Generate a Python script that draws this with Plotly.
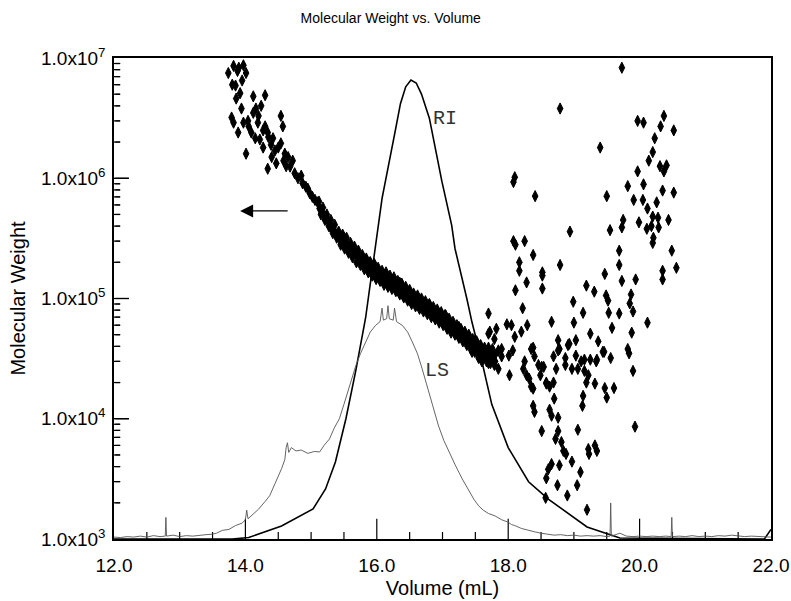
import math
import plotly.graph_objects as go

# ---------------- data ----------------
# molecular weight points (volume mL, molecular weight)
top_vol = [13.82, 13.97, 14.01, 13.74, 13.85, 13.92, 14.12, 14.30, 13.86, 14.16, 14.24, 13.94, 14.12,
           13.79, 13.82, 13.89, 13.97, 14.04, 14.54, 14.57, 14.09, 14.19, 14.30, 14.01, 14.22, 14.15,
           14.34, 14.39, 14.42, 14.27, 14.50, 14.54, 14.60, 14.65, 14.34, 14.47, 14.72, 14.62, 14.75,
           14.87, 14.98, 15.06, 14.20, 14.35, 14.45, 14.58, 14.68, 14.80, 14.92, 15.02, 14.05, 14.27,
           14.40, 14.85, 14.95, 13.88, 13.90, 13.95, 13.80]
top_mw = [8.6e6, 8.7e6, 7.5e6, 7.5e6, 5.9e6, 5.1e6, 4.8e6, 4.9e6, 4.6e6, 3.8e6, 4.0e6, 3.8e6, 3.5e6,
          3.2e6, 2.9e6, 2.4e6, 2.9e6, 3.0e6, 3.3e6, 2.7e6, 2.4e6, 2.9e6, 2.7e6, 1.6e6, 2.1e6, 2.15e6,
          2.4e6, 1.9e6, 2.15e6, 1.8e6, 1.8e6, 1.95e6, 1.6e6, 1.5e6, 1.2e6, 1.33e6, 1.4e6, 1.26e6, 1.1e6,
          9.1e5, 7.5e5, 6.6e5, 3.3e6, 2.2e6, 1.7e6, 1.4e6, 1.25e6, 1.0e6, 8.5e5, 7.0e5, 2.7e6, 2.5e6,
          1.5e6, 1.05e6, 8.2e5, 7.8e6, 8.3e6, 6.5e6, 6.0e6]

band_vol = [15.10, 15.13, 15.16, 15.19, 15.22, 15.25, 15.28, 15.31, 15.34, 15.37, 15.40, 15.43, 15.46,
            15.49, 15.52, 15.55, 15.58, 15.61, 15.64, 15.67, 15.70, 15.73, 15.76, 15.79, 15.82, 15.85,
            15.88, 15.91, 15.94, 15.97, 16.00, 16.03, 16.06, 16.09, 16.12, 16.15, 16.18, 16.21, 16.24,
            16.27, 16.30, 16.33, 16.36, 16.39, 16.42, 16.45, 16.48, 16.51, 16.54, 16.57, 16.60, 16.63,
            16.66, 16.69, 16.72, 16.75, 16.78, 16.81, 16.84, 16.87, 16.90, 16.93, 16.96, 16.99, 17.02,
            17.05, 17.08, 17.11, 17.14, 17.17, 17.20, 17.23, 17.26, 17.29, 17.32, 17.35, 17.38, 17.41,
            17.44, 17.47, 17.50, 17.53, 17.56, 17.59, 17.62, 17.65, 17.68, 17.71, 17.74, 17.77, 17.80,
            15.50, 15.90, 16.35, 16.80, 17.05, 17.25, 17.50, 17.45, 17.60, 17.70, 17.55, 17.80, 17.85,
            17.90]
band_mw = [6.3e5, 5.6e5, 5.4e5, 5.0e5, 4.6e5, 4.5e5, 4.0e5, 3.9e5, 3.6e5, 3.5e5, 3.3e5, 3.2e5, 3.0e5,
           3.0e5, 2.8e5, 2.8e5, 2.6e5, 2.6e5, 2.45e5, 2.4e5, 2.3e5, 2.2e5, 2.15e5, 2.05e5, 2.0e5, 1.9e5,
           1.85e5, 1.8e5, 1.75e5, 1.7e5, 1.65e5, 1.6e5, 1.55e5, 1.5e5, 1.5e5, 1.45e5, 1.4e5, 1.4e5, 1.35e5,
           1.3e5, 1.3e5, 1.22e5, 1.2e5, 1.15e5, 1.12e5, 1.1e5, 1.05e5, 1.03e5, 1.0e5, 9.8e4, 9.6e4, 9.3e4,
           9.0e4, 8.9e4, 8.6e4, 8.5e4, 8.2e4, 8.0e4, 7.9e4, 7.6e4, 7.5e4, 7.2e4, 7.0e4, 6.9e4, 6.6e4,
           6.5e4, 6.2e4, 6.0e4, 5.8e4, 5.6e4, 5.5e4, 5.2e4, 5.1e4, 4.9e4, 4.8e4, 4.6e4, 4.5e4, 4.4e4,
           4.2e4, 4.1e4, 4.0e4, 3.8e4, 3.7e4, 3.6e4, 3.5e4, 3.4e4, 3.6e4, 3.3e4, 3.5e4, 3.2e4, 3.4e4,
           3.2e5, 2.0e5, 1.35e5, 9.0e4, 7.2e4, 5.8e4, 4.5e4, 3.6e4, 3.0e4, 2.9e4, 3.2e4, 3.0e4, 3.7e4,
           3.3e4]

# upper and lower edges of the dense band
edge_vol = [15.12, 15.18, 15.24, 15.30, 15.36, 15.42, 15.48, 15.54, 15.60, 15.66, 15.72, 15.78, 15.84,
            15.90, 15.96, 16.02, 16.08, 16.14, 16.20, 16.26, 16.32, 16.38, 16.44, 16.50, 16.56, 16.62,
            16.68, 16.74, 16.80, 16.86, 16.92, 16.98, 17.04, 17.10, 17.16, 17.22, 17.28, 17.34, 17.40,
            17.46, 17.52, 17.58, 17.64, 17.70, 17.76,
            15.15, 15.21, 15.27, 15.33, 15.39, 15.45, 15.51, 15.57, 15.63, 15.69, 15.75, 15.81, 15.87,
            15.93, 15.99, 16.05, 16.11, 16.17, 16.23, 16.29, 16.35, 16.41, 16.47, 16.53, 16.59, 16.65,
            16.71, 16.77, 16.83, 16.89, 16.95, 17.01, 17.07, 17.13, 17.19, 17.25, 17.31, 17.37, 17.43,
            17.49, 17.55, 17.61, 17.67, 17.73, 17.79]
edge_mw = [6.4e5, 5.7e5, 5.0e5, 4.5e5, 4.1e5, 3.6e5, 3.4e5, 3.2e5, 2.9e5, 2.7e5, 2.5e5, 2.3e5, 2.15e5,
           2.0e5, 1.95e5, 1.8e5, 1.7e5, 1.65e5, 1.55e5, 1.5e5, 1.4e5, 1.33e5, 1.25e5, 1.18e5, 1.1e5, 1.06e5,
           1.0e5, 9.5e4, 8.9e4, 8.5e4, 8.1e4, 7.7e4, 7.3e4, 6.8e4, 6.4e4, 6.0e4, 5.6e4, 5.3e4, 5.0e4,
           4.6e4, 4.4e4, 4.1e4, 3.9e4, 3.9e4, 3.8e4,
           5.0e5, 4.5e5, 4.0e5, 3.5e5, 3.2e5, 2.8e5, 2.6e5, 2.4e5, 2.2e5, 2.0e5, 1.9e5, 1.75e5, 1.65e5,
           1.55e5, 1.45e5, 1.4e5, 1.3e5, 1.25e5, 1.2e5, 1.15e5, 1.08e5, 1.02e5, 9.6e4, 9.0e4, 8.6e4, 8.2e4,
           7.8e4, 7.4e4, 7.0e4, 6.7e4, 6.3e4, 6.0e4, 5.6e4, 5.2e4, 5.0e4, 4.7e4, 4.4e4, 4.1e4, 3.8e4,
           3.6e4, 3.3e4, 3.1e4, 3.0e4, 2.9e4, 3.0e4]

tail_vol = [19.73, 18.79, 19.97, 20.06, 20.37, 20.32, 20.52, 20.23, 19.40, 20.20, 20.14, 19.97, 20.31,
            20.41, 20.37, 18.10, 18.08, 19.82, 20.06, 20.35, 20.52, 18.41, 19.50, 19.91, 20.05, 20.26,
            20.12, 20.20, 20.28, 19.75, 19.73, 19.99, 20.44, 20.11, 20.18, 20.29, 19.55, 18.94, 18.08,
            18.25, 18.11, 20.21, 20.20, 19.69, 20.49, 18.38, 18.79, 19.69, 18.17, 18.17, 18.52, 18.52,
            20.35, 20.35, 20.56, 19.47, 18.28, 18.52, 18.11, 19.19, 19.31, 19.73, 19.94, 19.49, 19.52,
            19.87, 19.85, 18.99, 18.22, 19.90, 17.70, 19.53, 19.69, 19.14, 18.66, 19.00, 19.58, 20.12,
            18.29, 19.88, 19.25, 18.76, 19.03, 18.93, 19.37, 19.46, 19.82, 19.84, 19.56, 18.69, 18.76,
            18.87, 19.03, 19.16, 19.25, 19.35, 18.38, 18.40, 17.72, 17.98, 18.05, 18.20, 18.07, 18.87,
            18.97, 19.16, 19.22, 19.19, 19.32, 19.47, 19.61, 19.50, 18.69, 18.49, 18.58, 18.38, 18.70,
            19.14, 19.13, 18.38, 18.40, 18.63, 18.66, 18.76, 19.90, 18.51, 18.76, 19.06, 19.93, 18.72,
            18.81, 18.84, 18.88, 19.22, 19.23, 19.32, 19.35, 18.66, 18.61, 18.58, 18.78, 18.97, 19.10,
            18.75, 18.90, 19.05, 18.57, 19.20, 17.70, 17.79, 17.90, 18.01, 17.79, 17.85, 18.02, 18.35,
            18.54, 18.58, 18.63, 18.23, 18.28, 18.32, 18.35, 18.46, 18.51, 18.73, 19.06, 17.82, 18.10,
            18.25, 18.91, 18.78, 19.44, 19.34, 19.11]
tail_mw = [8.3e6, 3.8e6, 3.0e6, 2.9e6, 3.3e6, 2.7e6, 2.5e6, 2.15e6, 1.8e6, 1.65e6, 1.4e6, 1.14e6, 1.26e6,
           1.28e6, 1.14e6, 1.02e6, 9.3e5, 8.6e5, 8.9e5, 7.9e5, 7.6e5, 7.1e5, 7.1e5, 6.6e5, 6.6e5, 6.3e5,
           5.6e5, 4.8e5, 4.7e5, 4.5e5, 3.9e5, 4.3e5, 4.5e5, 3.8e5, 4.0e5, 3.9e5, 3.7e5, 3.6e5, 3.0e5,
           3.0e5, 2.8e5, 3.2e5, 2.9e5, 2.5e5, 2.5e5, 2.3e5, 1.9e5, 1.9e5, 2.0e5, 1.7e5, 1.65e5, 1.55e5,
           1.7e5, 1.44e5, 1.8e5, 1.6e5, 1.36e5, 1.21e5, 1.17e5, 1.28e5, 1.14e5, 1.4e5, 1.44e5, 1.06e5, 9.6e4,
           1.08e5, 9.1e4, 9.4e4, 8.3e4, 7.8e4, 7.5e4, 7.6e4, 7.5e4, 7.6e4, 6.4e4, 6.3e4, 5.7e4, 6.3e4,
           6.0e4, 5.2e4, 5.1e4, 4.5e4, 4.5e4, 4.2e4, 4.4e4, 3.6e4, 3.8e4, 3.5e4, 3.2e4, 3.3e4, 3.7e4,
           3.2e4, 3.35e4, 3.1e4, 3.1e4, 3.1e4, 3.9e4, 3.3e4, 5.3e4, 6.1e4, 6.0e4, 5.3e4, 3.7e4, 2.8e4,
           2.6e4, 2.5e4, 2.3e4, 2.0e4, 1.96e4, 1.8e4, 1.8e4, 1.5e4, 2.0e4, 2.3e4, 1.96e4, 1.78e4, 1.47e4,
           1.55e4, 1.28e4, 1.28e4, 1.14e4, 1.19e4, 1.06e4, 1.02e4, 2.5e4, 7.9e3, 7.9e3, 8.1e3, 8.6e3, 6.8e3,
           6.4e3, 5.4e3, 5.1e3, 5.6e3, 5.1e3, 6.0e3, 5.4e3, 4.2e3, 3.8e3, 3.2e3, 4.1e3, 4.4e3, 3.6e3,
           2.8e3, 2.3e3, 2.8e3, 2.2e3, 1.75e3, 5.1e4, 4.6e4, 3.8e4, 3.35e4, 2.8e4, 2.6e4, 2.3e4, 3.8e4,
           2.7e4, 2.0e4, 1.85e4, 2.6e4, 2.3e4, 2.15e4, 1.85e4, 2.8e4, 2.7e4, 2.6e4, 2.6e4, 5.6e4, 4.8e4,
           3.0e4, 4.1e4, 3.8e4, 3.6e4, 3.0e4, 3.0e4]

# RI detector trace (volume mL, relative signal)
ri_vol = [12.0, 13.0, 13.8, 14.05, 14.55, 15.03, 15.22, 15.37, 15.53, 15.68, 15.83, 15.90, 16.08, 16.28,
          16.36, 16.44, 16.52, 16.60, 16.68, 16.80, 16.99, 17.14, 17.19, 17.37, 17.45, 17.60, 17.75, 18.0,
          18.31, 18.55, 18.61, 19.2, 19.7, 21.9, 22.0]
ri_sig = [0.0, 0.0, 0.0, 0.003, 0.027, 0.0625, 0.104, 0.16, 0.25, 0.35, 0.46, 0.53, 0.708, 0.848,
          0.905, 0.94, 0.954, 0.948, 0.925, 0.875, 0.744, 0.652, 0.604, 0.5, 0.45, 0.369, 0.28, 0.19,
          0.119, 0.09, 0.083, 0.025, 0.002, 0.0, 0.02]

# LS detector trace (volume mL, relative signal)
ls_vol = [12.00, 12.10, 12.20, 12.30, 12.40, 12.50, 12.60, 12.70, 12.78, 12.79, 12.80, 12.90, 13.00,
          13.10, 13.20, 13.30, 13.40, 13.50, 13.56, 13.65, 13.75, 13.85, 13.95, 14.00, 14.02, 14.04,
          14.10, 14.20, 14.30, 14.37, 14.45, 14.50, 14.55, 14.60, 14.62, 14.64, 14.66, 14.70, 14.77,
          14.85, 14.95, 15.05, 15.13, 15.20, 15.28, 15.35, 15.43, 15.50, 15.56, 15.62, 15.68, 15.75,
          15.83, 15.90, 15.98, 16.05, 16.08, 16.10, 16.15, 16.17, 16.19, 16.25, 16.27, 16.30, 16.39,
          16.47, 16.54, 16.62, 16.69, 16.75, 16.80, 16.87, 16.94, 17.02, 17.10, 17.20, 17.30, 17.40,
          17.48, 17.55, 17.62, 17.70, 17.80, 17.90, 18.00, 18.05, 18.10, 18.20, 18.30, 18.40, 18.50,
          18.60, 18.70, 18.80, 18.90, 19.00, 19.10, 19.20, 19.30, 19.40, 19.50, 19.55, 19.56, 19.57,
          19.70, 19.80, 19.90, 20.00, 20.10, 20.20, 20.30, 20.40, 20.48, 20.49, 20.50, 20.60, 20.70,
          20.80, 20.90, 21.00, 21.10, 21.20, 21.30, 21.40, 21.50, 21.60, 21.70, 21.80, 22.00]
ls_sig = [0.004, 0.003, 0.005, 0.004, 0.006, 0.004, 0.007, 0.005, 0.006, 0.045, 0.006, 0.008, 0.005,
          0.007, 0.006, 0.008, 0.009, 0.010, 0.012, 0.018, 0.020, 0.028, 0.033, 0.040, 0.060, 0.042,
          0.050, 0.062, 0.078, 0.090, 0.115, 0.130, 0.146, 0.165, 0.190, 0.200, 0.180, 0.190, 0.183,
          0.185, 0.178, 0.182, 0.181, 0.195, 0.208, 0.230, 0.250, 0.280, 0.306, 0.335, 0.360, 0.385,
          0.410, 0.430, 0.444, 0.452, 0.480, 0.455, 0.458, 0.485, 0.458, 0.455, 0.480, 0.452, 0.444,
          0.430, 0.410, 0.385, 0.354, 0.325, 0.298, 0.265, 0.235, 0.205, 0.181, 0.152, 0.125, 0.100,
          0.082, 0.069, 0.060, 0.053, 0.048, 0.040, 0.035, 0.030, 0.028, 0.022, 0.018, 0.015, 0.012,
          0.010, 0.008, 0.009, 0.007, 0.008, 0.006, 0.007, 0.006, 0.007, 0.005, 0.006, 0.075, 0.006,
          0.012, 0.006, 0.005, 0.006, 0.005, 0.006, 0.005, 0.006, 0.005, 0.045, 0.005, 0.006, 0.005,
          0.007, 0.005, 0.006, 0.005, 0.007, 0.006, 0.008, 0.006, 0.005, 0.006, 0.005, 0.004]

# axis ticks
x_major_vals = [14.0, 16.0, 18.0, 20.0]
x_minor_vals = [12.5, 13.0, 13.5, 14.5, 15.0, 15.5, 16.5, 17.0, 17.5, 18.5, 19.0, 19.5, 20.5, 21.0, 21.5]
y_tickvals = [1e3, 1e4, 1e5, 1e6, 1e7]
y_ticktext = ["1.0x10<sup>3</sup>", "1.0x10<sup>4</sup>", "1.0x10<sup>5</sup>",
              "1.0x10<sup>6</sup>", "1.0x10<sup>7</sup>"]
y_major_inner = [1e4, 1e5, 1e6]
y_minor_vals = [2e3, 3e3, 4e3, 5e3, 6e3, 7e3, 8e3, 9e3, 2e4, 3e4, 4e4, 5e4, 6e4, 7e4, 8e4, 9e4,
                2e5, 3e5, 4e5, 5e5, 6e5, 7e5, 8e5, 9e5, 2e6, 3e6, 4e6, 5e6, 6e6, 7e6, 8e6, 9e6]
X_MIN, X_MAX = 12.0, 22.0
Y_MIN, Y_MAX = 1e3, 1e7

WIDTH, HEIGHT = 791, 601
MARGIN = dict(l=114, r=20, t=58, b=62)
PLOT_W = WIDTH - MARGIN["l"] - MARGIN["r"]

FONT = "Liberation Sans, Arial, sans-serif"


def tick_trace(xs, ys, symbol, size, xaxis="x", yaxis="y"):
    # tick marks centred on the frame edge; the half outside the plot area is clipped,
    # so what remains is an inward tick of length 0.7*size
    return go.Scatter(x=xs, y=ys, mode="markers", cliponaxis=True, showlegend=False,
                      hoverinfo="skip", xaxis=xaxis, yaxis=yaxis,
                      marker=dict(symbol=symbol, size=size, color="black",
                                  line=dict(color="black", width=1.2)))


def y_frac(v):
    # position of a value on the log y axis, as a fraction of the plot height
    lo, hi = math.log10(Y_MIN), math.log10(Y_MAX)
    return (math.log10(v) - lo) / (hi - lo)


def y_tick_shapes(vals, length_px):
    # inward ticks on the left frame edge
    return [dict(type="line", xref="paper", yref="paper", x0=0.002, x1=length_px / PLOT_W,
                 y0=y_frac(v), y1=y_frac(v), layer="above",
                 line=dict(color="black", width=1.2)) for v in vals]


fig = go.Figure()
# RI / LS detector signals on their own (hidden) linear subplot occupying the same area
fig.add_trace(go.Scatter(x=ri_vol, y=ri_sig, mode="lines", xaxis="x2", yaxis="y2",
                         line=dict(color="black", width=1.6), showlegend=False, hoverinfo="skip"))
fig.add_trace(go.Scatter(x=ls_vol, y=ls_sig, mode="lines", xaxis="x2", yaxis="y2",
                         line=dict(color="#555555", width=0.9), showlegend=False, hoverinfo="skip"))
# molecular weight points
fig.add_trace(go.Scatter(x=top_vol + band_vol + edge_vol + tail_vol,
                         y=top_mw + band_mw + edge_mw + tail_mw,
                         mode="markers",
                         marker=dict(symbol="diamond-tall", size=8, color="black",
                                     line=dict(color="black", width=1)),
                         showlegend=False))
# inward ticks
fig.add_trace(tick_trace(x_major_vals, [Y_MIN] * len(x_major_vals), "line-ns", 29))
fig.add_trace(tick_trace(x_minor_vals, [Y_MIN] * len(x_minor_vals), "line-ns", 10))
fig.add_trace(tick_trace([X_MIN] * len(y_major_inner), y_major_inner, "line-ew", 21, "x2", "y3"))
fig.add_trace(tick_trace([X_MIN] * len(y_minor_vals), y_minor_vals, "line-ew", 9, "x2", "y3"))

fig.update_layout(
    width=WIDTH, height=HEIGHT,
    margin=MARGIN,
    paper_bgcolor="white", plot_bgcolor="rgba(0,0,0,0)",
    font=dict(family=FONT, color="black", size=19),
    title=dict(text="Molecular Weight vs. Volume", x=0.494, xref="container", y=0.97, yref="container",
               xanchor="center", yanchor="middle",
               font=dict(size=14, family=FONT)),
    xaxis=dict(range=[X_MIN, X_MAX], dtick=2, tick0=12, tickformat=".1f", ticks="",
               showline=True, linecolor="black", linewidth=1.5, automargin=False,
               mirror=True, showgrid=False, zeroline=False, ticklabelstandoff=8,
               title=dict(text="Volume (mL)", font=dict(size=20), standoff=6)),
    yaxis=dict(type="log", range=[3, 7], tickmode="array", tickvals=y_tickvals, ticktext=y_ticktext,
               ticks="inside", ticklen=15, tickwidth=1.2, tickcolor="black",
               showline=True, automargin=False, ticklabelstandoff=3,
               linecolor="black", linewidth=1.5, mirror=True, showgrid=False, zeroline=False,
               title=dict(text="Molecular Weight", font=dict(size=20), standoff=10)),
    xaxis2=dict(range=[X_MIN, X_MAX], domain=[0, 1], anchor="y2", visible=False,
                showgrid=False, zeroline=False),
    yaxis2=dict(range=[0, 1], domain=[0, 1], anchor="x2", visible=False,
                showgrid=False, zeroline=False),
    yaxis3=dict(type="log", range=[3, 7], overlaying="y2", anchor="x2", visible=False,
                showgrid=False, zeroline=False),
    shapes=y_tick_shapes(y_major_inner, 15) + y_tick_shapes(y_minor_vals, 6),
    annotations=[
        dict(x=17.04, y=0.875, xref="x2", yref="y2", text="RI", showarrow=False,
             font=dict(family="Liberation Mono, monospace", size=20, color="#333333")),
        dict(x=16.92, y=0.351, xref="x2", yref="y2", text="LS", showarrow=False,
             font=dict(family="Liberation Mono, monospace", size=20, color="#333333")),
        dict(x=13.92, y=5.728, xref="x", yref="y", text="", showarrow=True, ax=49, ay=0,
             arrowhead=2, arrowsize=2, arrowwidth=1.3, arrowcolor="black"),
    ],
)

fig.write_html("out.html", config={"displayModeBar": False},
               post_script="document.body.style.margin='0px';")
